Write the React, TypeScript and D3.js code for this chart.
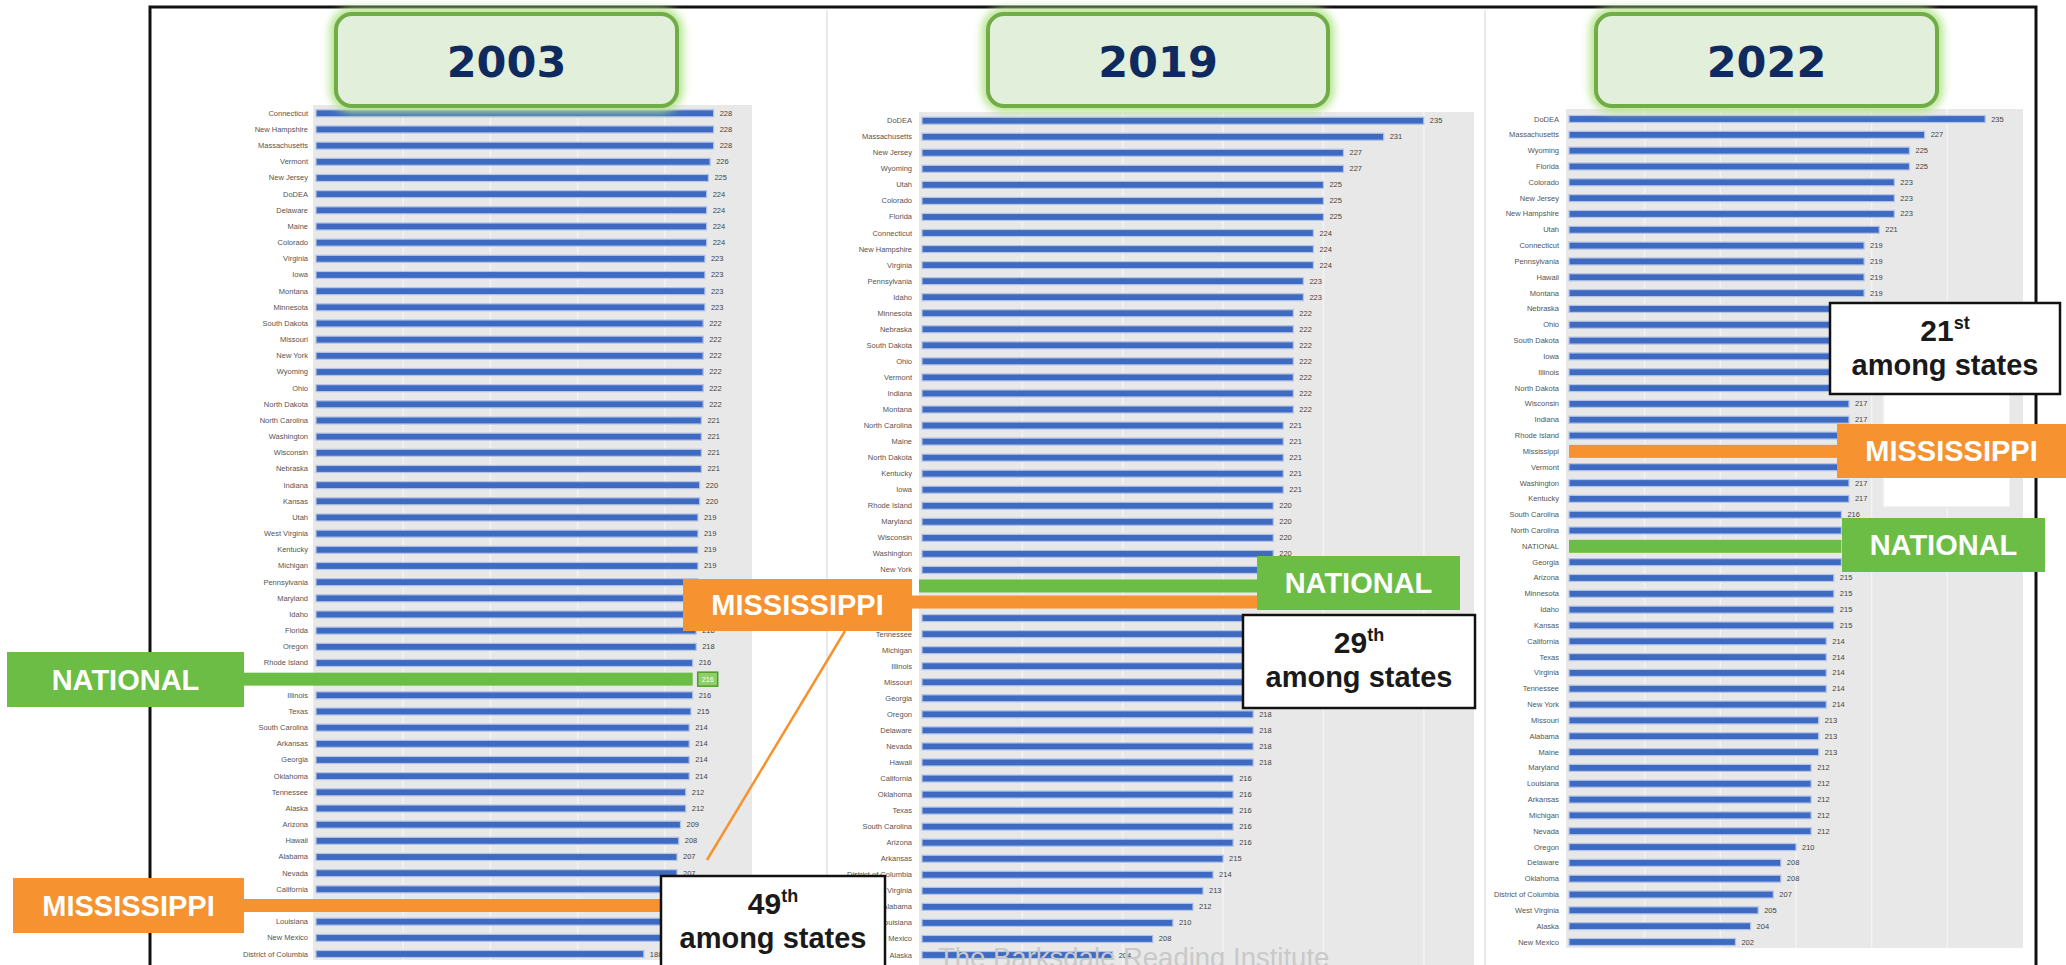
import * as d3 from "d3";

const years = ["2003", "2019", "2022"];

const states2003 = [
  "Connecticut", "New Hampshire", "Massachusetts", "Vermont", "New Jersey", "DoDEA", "Delaware", "Maine",
  "Colorado", "Virginia", "Iowa", "Montana", "Minnesota", "South Dakota", "Missouri", "New York", "Wyoming",
  "Ohio", "North Dakota", "North Carolina", "Washington", "Wisconsin", "Nebraska", "Indiana", "Kansas", "Utah",
  "West Virginia", "Kentucky", "Michigan", "Pennsylvania", "Maryland", "Idaho", "Florida", "Oregon",
  "Rhode Island", "NATIONAL", "Illinois", "Texas", "South Carolina", "Arkansas", "Georgia", "Oklahoma",
  "Tennessee", "Alaska", "Arizona", "Hawaii", "Alabama", "Nevada", "California", "Mississippi", "Louisiana",
  "New Mexico", "District of Columbia",
];
const scores2003 = [
  228, 228, 228, 226, 225, 224, 224, 224, 224, 223, 223, 223, 223, 222, 222, 222, 222, 222, 222, 221, 221, 221,
  221, 220, 220, 219, 219, 219, 219, 219, 219, 218, 218, 218, 216, 216, 216, 215, 214, 214, 214, 214, 212, 212,
  209, 208, 207, 207, 206, 205, 205, 203, 188,
];

const states2019 = [
  "DoDEA", "Massachusetts", "New Jersey", "Wyoming", "Utah", "Colorado", "Florida", "Connecticut",
  "New Hampshire", "Virginia", "Pennsylvania", "Idaho", "Minnesota", "Nebraska", "South Dakota", "Ohio",
  "Vermont", "Indiana", "Montana", "North Carolina", "Maine", "North Dakota", "Kentucky", "Iowa", "Rhode Island",
  "Maryland", "Wisconsin", "Washington", "New York", "NATIONAL", "Mississippi", "Kansas", "Tennessee", "Michigan",
  "Illinois", "Missouri", "Georgia", "Oregon", "Delaware", "Nevada", "Hawaii", "California", "Oklahoma", "Texas",
  "South Carolina", "Arizona", "Arkansas", "District of Columbia", "West Virginia", "Alabama", "Louisiana",
  "New Mexico", "Alaska",
];
const scores2019 = [
  235, 231, 227, 227, 225, 225, 225, 224, 224, 224, 223, 223, 222, 222, 222, 222, 222, 222, 222, 221, 221, 221,
  221, 221, 220, 220, 220, 220, 220, 219, 219, 219, 219, 219, 219, 219, 219, 218, 218, 218, 218, 216, 216, 216,
  216, 216, 215, 214, 213, 212, 210, 208, 204,
];

const states2022 = [
  "DoDEA", "Massachusetts", "Wyoming", "Florida", "Colorado", "New Jersey", "New Hampshire", "Utah",
  "Connecticut", "Pennsylvania", "Hawaii", "Montana", "Nebraska", "Ohio", "South Dakota", "Iowa", "Illinois",
  "North Dakota", "Wisconsin", "Indiana", "Rhode Island", "Mississippi", "Vermont", "Washington", "Kentucky",
  "South Carolina", "North Carolina", "NATIONAL", "Georgia", "Arizona", "Minnesota", "Idaho", "Kansas",
  "California", "Texas", "Virginia", "Tennessee", "New York", "Missouri", "Alabama", "Maine", "Maryland",
  "Louisiana", "Arkansas", "Michigan", "Nevada", "Oregon", "Delaware", "Oklahoma", "District of Columbia",
  "West Virginia", "Alaska", "New Mexico",
];
const scores2022 = [
  235, 227, 225, 225, 223, 223, 223, 221, 219, 219, 219, 219, 218, 218, 218, 218, 218, 218, 217, 217, 217, 217,
  217, 217, 217, 216, 216, 216, 216, 215, 215, 215, 215, 214, 214, 214, 214, 214, 213, 213, 213, 212, 212, 212,
  212, 212, 210, 208, 208, 207, 205, 204, 202,
];

const ranks = ["49", "29", "21"];
const rankSuffix = ["th", "th", "st"];

const BLUE = "#3e6bc1";
const GREEN = "#6cbd45";
const ORANGE = "#f6922f";
const NAVY = "#0f2a5e";

type Layout = {
  domain: [number, number];
  step: number;
  xRange: [number, number];
  yRange: [number, number];
  gray: [number, number, number, number];
  labelX: number;
  hlStart: number;
  msStart: number;
  showHlLabels: boolean;
  natValueBox: boolean;
};

const layouts: Layout[] = [
  { domain: [0, 250], step: 50, xRange: [316, 752], yRange: [113.3, 954], gray: [313, 105, 752, 960], labelX: 308, hlStart: 244, msStart: 244, showHlLabels: false, natValueBox: true },
  { domain: [185, 240], step: 10, xRange: [922, 1474], yRange: [120.7, 955], gray: [919, 112, 1474, 966], labelX: 912, hlStart: 919, msStart: 912, showHlLabels: false, natValueBox: false },
  { domain: [180, 240], step: 10, xRange: [1569, 2023], yRange: [119, 942], gray: [1566, 109, 2023, 948], labelX: 1559, hlStart: 1569, msStart: 1569, showHlLabels: true, natValueBox: false },
];

function Panel({ states, scores, layout }: { states: string[]; scores: number[]; layout: Layout }) {
  const x = d3.scaleLinear().domain(layout.domain).range(layout.xRange);
  const y = d3.scalePoint<string>().domain(states).range(layout.yRange);
  const [gx0, gy0, gx1, gy1] = layout.gray;
  const grid = d3.range(layout.domain[0] + layout.step, layout.domain[1], layout.step);

  return (
    <g>
      <rect x={gx0} y={gy0} width={gx1 - gx0} height={gy1 - gy0} fill="#e8e8e8" />
      {grid.map((t) => (
        <line key={t} x1={x(t)} x2={x(t)} y1={gy0} y2={gy1} stroke="#f3f3f3" strokeWidth="1.5" />
      ))}

      {states.map((s, i) => {
        const cy = y(s) ?? 0;
        const v = scores[i];
        const isNat = s === "NATIONAL";
        const isMs = s === "Mississippi";
        const hl = isNat || isMs;
        const x0 = hl ? (isNat ? layout.hlStart : layout.msStart) : x(layout.domain[0]);
        return (
          <g key={s}>
            {(!hl || layout.showHlLabels) && (
              <text x={layout.labelX} y={cy} textAnchor="end" dominantBaseline="central" fontSize="7.5" fill="#555">
                {s}
              </text>
            )}
            {hl ? (
              <rect x={x0} y={cy - 6.5} width={x(v) - x0} height={13} fill={isNat ? GREEN : ORANGE} />
            ) : (
              <rect x={x0} y={cy - 3.5} width={x(v) - x0} height={7} fill={BLUE} stroke="#b3c4e9" strokeWidth="1.2" />
            )}
            {isNat && layout.natValueBox ? (
              <g>
                <rect x={x(v) + 5} y={cy - 7} width={20} height={14} fill="#8fd066" stroke="#4f9a30" strokeWidth="1.5" />
                <text x={x(v) + 15} y={cy} textAnchor="middle" dominantBaseline="central" fontSize="7" fill="#fff">
                  {v}
                </text>
              </g>
            ) : (
              <text x={x(v) + 6} y={cy} dominantBaseline="central" fontSize="7.5" fill="#444">
                {v}
              </text>
            )}
          </g>
        );
      })}
    </g>
  );
}

function Tag({ x, y, w, h, fill, text }: { x: number; y: number; w: number; h: number; fill: string; text: string }) {
  return (
    <g>
      <rect x={x} y={y} width={w} height={h} fill={fill} />
      <text x={x + w / 2} y={y + h / 2 + 10} textAnchor="middle" fontSize="29" fontWeight="bold" fill="#fff">
        {text}
      </text>
    </g>
  );
}

function RankBox({ x, y, w, h, rank, suffix }: { x: number; y: number; w: number; h: number; rank: string; suffix: string }) {
  const cx = x + w / 2;
  return (
    <g>
      <rect x={x} y={y} width={w} height={h} fill="#fff" stroke="#111" strokeWidth="2.5" />
      <text x={cx} y={y + 38} textAnchor="middle" fontSize="30" fontWeight="bold" fill="#1a1a1a">
        {rank}
        <tspan fontSize="18" dy="-12">{suffix}</tspan>
      </text>
      <text x={cx} y={y + 72} textAnchor="middle" fontSize="29" fontWeight="bold" fill="#1a1a1a">
        among states
      </text>
    </g>
  );
}

const headerBoxes = [
  { x: 336, w: 341 },
  { x: 988, w: 340 },
  { x: 1596, w: 341 },
];

export default function App() {
  const data = [
    { states: states2003, scores: scores2003 },
    { states: states2019, scores: scores2019 },
    { states: states2022, scores: scores2022 },
  ];

  return (
    <div style={{ position: "absolute", left: 0, top: 0 }}>
      <svg
        width={2066}
        height={965}
        viewBox="0 0 2066 965"
        style={{ display: "block", background: "#fff" }}
        fontFamily="'Liberation Sans', Arial, sans-serif"
      >
        <defs>
          <filter id="glow" x="-20%" y="-40%" width="140%" height="180%">
            <feGaussianBlur stdDeviation="4" />
          </filter>
        </defs>

        {/* panel separators */}
        <line x1={827} x2={827} y1={10} y2={965} stroke="#e2e2e2" strokeWidth="1.5" />
        <line x1={1485} x2={1485} y1={10} y2={965} stroke="#e2e2e2" strokeWidth="1.5" />

        {data.map((d, i) => (
          <Panel key={years[i]} states={d.states} scores={d.scores} layout={layouts[i]} />
        ))}

        <text x={938} y={967} fontSize="27.5" fill="#c9c9c9">
          The Barksdale Reading Institute
        </text>

        {/* outer frame */}
        <path d="M150 965 V7 H2036 V965" fill="none" stroke="#111" strokeWidth="3" />

        {headerBoxes.map((b, i) => (
          <g key={years[i]}>
            <rect x={b.x} y={14} width={b.w} height={92} rx={16} fill="none" stroke="#b3e38a" strokeWidth="12" filter="url(#glow)" />
            <rect x={b.x} y={14} width={b.w} height={92} rx={16} fill="#e2efda" stroke="#70ad47" strokeWidth="4" />
            <text x={b.x + b.w / 2} y={77} textAnchor="middle" fontFamily="'DejaVu Sans', sans-serif" fontSize="43" fontWeight="bold" fill={NAVY}>
              {years[i]}
            </text>
          </g>
        ))}

        {/* leftover box behind 2022 labels */}
        <rect x={1883} y={390} width={127} height={117} fill="#fff" stroke="#ececec" strokeWidth="1.5" />

        <line x1={707} y1={860} x2={845} y2={631} stroke={ORANGE} strokeWidth="2.5" />

        <Tag x={7} y={652} w={237} h={55} fill={GREEN} text="NATIONAL" />
        <Tag x={13} y={878} w={231} h={55} fill={ORANGE} text="MISSISSIPPI" />
        <Tag x={683} y={579} w={229} h={52} fill={ORANGE} text="MISSISSIPPI" />
        <Tag x={1257} y={556} w={203} h={54} fill={GREEN} text="NATIONAL" />
        <Tag x={1837} y={424} w={229} h={54} fill={ORANGE} text="MISSISSIPPI" />
        <Tag x={1842} y={518} w={203} h={54} fill={GREEN} text="NATIONAL" />

        <RankBox x={661} y={876} w={224} h={95} rank={ranks[0]} suffix={rankSuffix[0]} />
        <RankBox x={1243} y={615} w={232} h={93} rank={ranks[1]} suffix={rankSuffix[1]} />
        <RankBox x={1830} y={303} w={230} h={91} rank={ranks[2]} suffix={rankSuffix[2]} />
      </svg>
    </div>
  );
}
